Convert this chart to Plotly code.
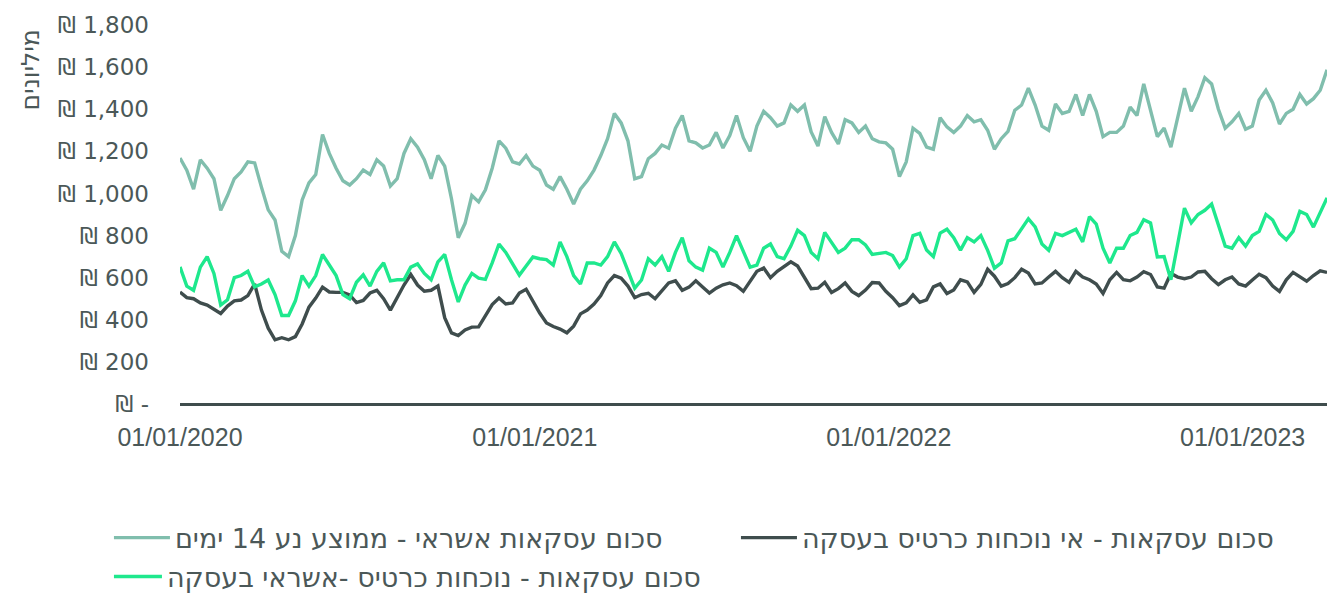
import pandas as pd
import plotly.graph_objects as go

# Weekly readings, starting 01/01/2020
start_date = "2020-01-01"

credit_ma14 = [
    1168, 1110, 1020, 1160, 1120, 1070, 920, 990, 1070, 1102,
    1150, 1145, 1030, 922, 874, 725, 700, 800, 969, 1050,
    1090, 1280, 1190, 1120, 1060, 1040, 1070, 1111, 1090, 1160,
    1130, 1035, 1070, 1190, 1260, 1220, 1160, 1070, 1180, 1130,
    975, 790, 858, 990, 960, 1017, 1120, 1250, 1215, 1150,
    1140, 1180, 1130, 1110, 1040, 1020, 1080, 1020, 950, 1020,
    1060, 1111, 1180, 1260, 1380, 1335, 1250, 1070, 1080, 1165,
    1190, 1230, 1215, 1310, 1370, 1250, 1240, 1216, 1230, 1290,
    1216, 1275, 1370, 1265, 1200, 1320, 1390, 1360, 1320, 1335,
    1420, 1390, 1420, 1292, 1225, 1365, 1290, 1235, 1350, 1335,
    1290, 1320, 1260, 1245, 1240, 1210, 1080, 1150, 1310, 1285,
    1220, 1210, 1360, 1316, 1290, 1320, 1370, 1340, 1350, 1300,
    1210, 1260, 1295, 1395, 1420, 1500, 1420, 1320, 1300, 1425,
    1380, 1390, 1470, 1370, 1470, 1390, 1270, 1290, 1290, 1320,
    1410, 1370, 1520, 1400, 1270, 1310, 1220, 1360, 1500, 1390,
    1460, 1550, 1520, 1400, 1310, 1340, 1380, 1305, 1320, 1444,
    1490, 1430, 1330, 1380, 1400, 1470, 1425, 1450, 1490, 1587,
]

card_not_present = [
    532, 505, 500, 480, 470, 450, 430, 465, 490, 494,
    515, 570, 446, 360, 305, 315, 305, 320, 380, 460,
    503, 555, 532, 530, 530, 518, 482, 492, 527, 540,
    500, 446, 505, 565, 615, 565, 536, 540, 560, 410,
    338, 325, 352, 365, 366, 420, 472, 503, 475, 480,
    527, 545, 490, 432, 385, 368, 356, 338, 370, 428,
    446, 475, 515, 575, 610, 598, 560, 505, 520, 526,
    500, 535, 575, 585, 540, 555, 585, 556, 527, 550,
    566, 575, 562, 535, 585, 630, 646, 600, 630, 651,
    675, 655, 598, 548, 550, 578, 530, 548, 575, 535,
    515, 541, 577, 575, 535, 505, 467, 480, 518, 483,
    495, 556, 570, 525, 542, 590, 580, 530, 568, 640,
    607, 560, 572, 600, 640, 622, 570, 575, 603, 630,
    600, 578, 630, 603, 590, 570, 525, 590, 625, 590,
    585, 603, 628, 615, 556, 550, 620, 603, 595, 603,
    627, 630, 595, 567, 590, 603, 570, 560, 589, 616,
    600, 560, 535, 590, 625, 603, 583, 610, 632, 625,
]

card_present = [
    651, 560, 540, 650, 700, 620, 470, 495, 600, 610,
    630, 556, 570, 589, 520, 420, 420, 490, 610, 560,
    610, 710, 660, 610, 520, 500, 578, 613, 560, 630,
    670, 585, 590, 590, 650, 665, 620, 590, 675, 710,
    590, 485, 565, 620, 598, 592, 670, 760, 720, 668,
    612, 655, 698, 690, 686, 660, 770, 700, 610, 570,
    670, 670, 660, 700, 770, 715, 630, 550, 589, 690,
    660, 700, 630, 720, 790, 680, 650, 636, 740, 720,
    650, 720, 800, 720, 650, 660, 740, 760, 700, 690,
    750, 825, 800, 720, 690, 815, 770, 720, 740, 780,
    780, 755, 710, 715, 720, 705, 650, 690, 800, 810,
    731, 700, 812, 830, 790, 731, 790, 770, 800, 730,
    645, 670, 775, 785, 835, 880, 841, 760, 730, 810,
    800, 815, 830, 770, 890, 855, 740, 670, 740, 740,
    800, 815, 875, 860, 698, 700, 590, 760, 930, 860,
    900, 920, 950, 850, 750, 740, 790, 750, 800, 820,
    900, 874, 810, 780, 820, 915, 900, 840, 910, 979,
]

series_names = [
    "סכום עסקאות אשראי - ממוצע נע 14 ימים",
    "סכום עסקאות - אי נוכחות כרטיס בעסקה",
    "סכום עסקאות - נוכחות כרטיס -אשראי בעסקה",
]
series_colors = ["#80bead", "#3f4d4d", "#1ee88d"]

y_tick_values = [0, 200, 400, 600, 800, 1000, 1200, 1400, 1600, 1800]
y_tick_labels = ["₪ -", "₪ 200", "₪ 400", "₪ 600", "₪ 800", "₪ 1,000",
                 "₪ 1,200", "₪ 1,400", "₪ 1,600", "₪ 1,800"]
x_tick_values = ["2020-01-01", "2021-01-01", "2022-01-01", "2023-01-01"]
x_tick_labels = ["01/01/2020", "01/01/2021", "01/01/2022", "01/01/2023"]
y_title = "מיליונים"

dates = pd.date_range(start_date, periods=len(credit_ma14), freq="7D")

fig = go.Figure()
all_series = [credit_ma14, card_not_present, card_present]
legend_ids = ["legend", "legend2", "legend3"]
for vals, name, col, lg in zip(all_series, series_names, series_colors, legend_ids):
    fig.add_trace(go.Scatter(
        x=dates, y=vals, mode="lines", name=name,
        line=dict(color=col, width=3.4), legend=lg,
    ))

text_color = "#4b5858"
legend_font = dict(size=27, color=text_color, family="DejaVu Sans, sans-serif")
legend_common = dict(orientation="h", bgcolor="rgba(0,0,0,0)", font=legend_font,
                     xref="container", yref="container",
                     xanchor="left", yanchor="middle")

fig.update_layout(
    width=1327, height=593,
    margin=dict(l=180, r=0, t=25, b=189, autoexpand=False),
    paper_bgcolor="white", plot_bgcolor="white",
    font=dict(family="DejaVu Sans, sans-serif", color=text_color, size=20),
    showlegend=True,
    legend=dict(x=0.0821, y=0.0927, itemwidth=56, **legend_common),
    legend2=dict(x=0.5546, y=0.0927, itemwidth=56, **legend_common),
    legend3=dict(x=0.0821, y=0.0270, itemwidth=48, **legend_common),
    xaxis=dict(
        range=[dates[0], dates[-1]], automargin=False,
        tickvals=x_tick_values, ticktext=x_tick_labels,
        showgrid=False, zeroline=False, showline=False,
        ticks="", ticklabelstandoff=16,
        tickfont=dict(size=25, color=text_color, family="Liberation Sans, Arial, sans-serif"),
    ),
    yaxis=dict(
        range=[0, 1800], automargin=False,
        tickvals=y_tick_values, ticktext=y_tick_labels,
        showgrid=False, zeroline=True, zerolinecolor="#3f4d4d", zerolinewidth=3,
        showline=False, ticks="", ticklabelstandoff=30,
        tickfont=dict(size=23, color=text_color, family="DejaVu Sans, sans-serif"),
    ),
    annotations=[dict(
        text=y_title, textangle=-90, xref="paper", yref="paper",
        x=-0.1299, y=0.992, xanchor="center", yanchor="top",
        showarrow=False, font=dict(size=25, color=text_color, family="DejaVu Sans, sans-serif"),
    )],
)

fig.write_html(
    "out.html",
    config={"displayModeBar": False},
    post_script="document.body.style.margin='0';document.body.style.overflow='hidden';",
)
